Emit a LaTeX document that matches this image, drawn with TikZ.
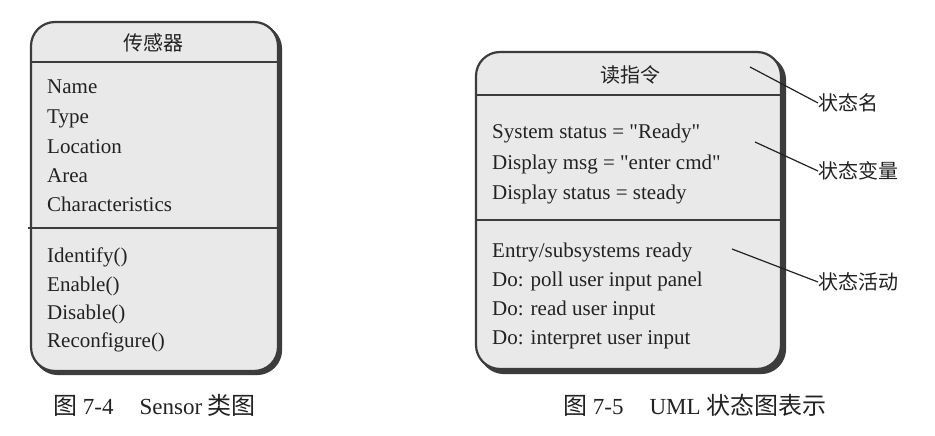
\documentclass[tikz,border=0pt]{standalone}
\usepackage{fontspec}
\setmainfont{Liberation Serif}[Ligatures=TeXOff]
\newfontfamily\cjk{Noto Sans CJK SC}
\definecolor{panel}{HTML}{E9E9E9}
\definecolor{edge}{HTML}{3C3C3C}
\definecolor{ink}{HTML}{222222}
\begin{document}
\begin{tikzpicture}[x=1pt,y=-1pt,
  panelbox/.style={fill=panel, draw=edge, line width=2.2pt, rounded corners=24pt},
  shadowbox/.style={fill=edge, draw=edge, line width=2.2pt, rounded corners=24pt},
  divider/.style={draw=edge, line width=1.6pt},
  item/.style={anchor=base west, inner sep=0pt, text=ink, font=\fontsize{21}{25}\selectfont},
  heading/.style={inner sep=0pt, text=ink, font=\cjk\fontsize{20}{24}\selectfont},
  tag/.style={anchor=west, inner sep=0pt, text=ink, font=\cjk\fontsize{20}{24}\selectfont},
  caption/.style={anchor=west, inner sep=0pt, text=ink, font=\fontsize{23}{27}\selectfont},
  leader/.style={draw=ink, line width=1.2pt}]
\useasboundingbox[fill=white] (0,0) rectangle (935,436);

% ---- Sensor class box ----
\path[shadowbox] (34,25) rectangle (281,374);
\path[panelbox] (31,22) rectangle (278,371);
\draw[divider] (31,62) -- (278,62);
\draw[divider] (28,228) -- (278,228);
\node[heading] (cls) at (153,43) {传感器};
\node[item] (a1) at (47,93)  {Name};
\node[item] (a2) at (47,123) {Type};
\node[item] (a3) at (47,153) {Location};
\node[item] (a4) at (47,182) {Area};
\node[item] (a5) at (47,211) {Characteristics};
\node[item] (m1) at (47,262) {Identify()};
\node[item] (m2) at (47,291) {Enable()};
\node[item] (m3) at (47,319) {Disable()};
\node[item] (m4) at (47,347) {Reconfigure()};
\node[caption] (cap1) at (53,405) {{\cjk\fontsize{24}{28}\selectfont 图} 7-4\hspace{26pt}Sensor {\cjk\fontsize{24}{28}\selectfont 类图}};

% ---- UML state box ----
\path[shadowbox] (480,56) rectangle (785,373);
\path[panelbox] (476,52) rectangle (781,369);
\draw[divider] (476,95) -- (781,95);
\draw[divider] (476,220) -- (781,220);
\node[heading] (st) at (630,75) {读指令};
\node[item] (v1) at (492,139) {System status = "Ready"};
\node[item] (v2) at (492,169) {Display msg = "enter cmd"};
\node[item] (v3) at (492,199) {Display status = steady};
\node[item] (d1) at (492,257) {Entry/subsystems ready};
\node[item] (d2) at (492,286) {Do: poll user input panel};
\node[item] (d3) at (492,315) {Do: read user input};
\node[item] (d4) at (492,344) {Do: interpret user input};

% ---- annotations ----
\node[tag] (t1) at (818,103) {状态名};
\node[tag] (t2) at (818,171) {状态变量};
\node[tag] (t3) at (818,282) {状态活动};
\coordinate (p1) at (750,67);
\coordinate (p2) at (755,142);
\coordinate (p3) at (732,249);
\draw[leader] (p1) -- (t1.west);
\draw[leader] (p2) -- (t2.west);
\draw[leader] (p3) -- (t3.west);

\node[caption] (cap2) at (563,405) {{\cjk\fontsize{24}{28}\selectfont 图} 7-5\hspace{26pt}UML {\cjk\fontsize{24}{28}\selectfont 状态图表示}};
\end{tikzpicture}
\end{document}
